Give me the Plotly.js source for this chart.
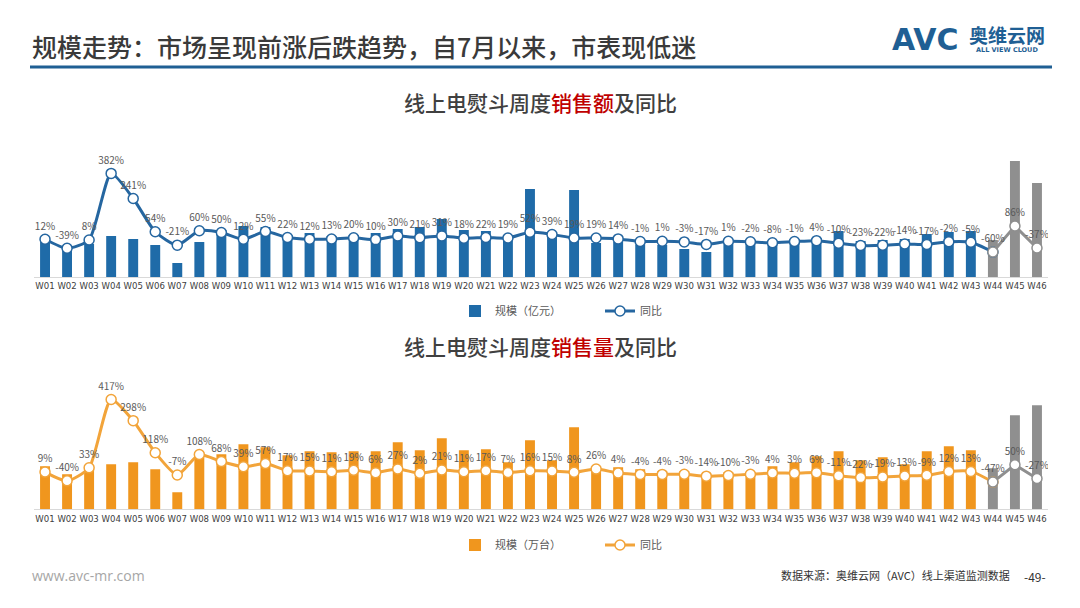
<!DOCTYPE html>
<html><head><meta charset="utf-8">
<script src="https://cdn.plot.ly/plotly-3.0.1.min.js"></script>
<style>html,body{margin:0;padding:0;background:#fff;}#chart{width:1080px;height:608px;}</style>
</head><body><div id="chart"></div>
<script>
// ---- data ----
const weeks = ['W01','W02','W03','W04','W05','W06','W07','W08','W09','W10','W11','W12','W13','W14','W15','W16','W17','W18','W19','W20','W21','W22','W23','W24','W25','W26','W27','W28','W29','W30','W31','W32','W33','W34','W35','W36','W37','W38','W39','W40','W41','W42','W43','W44','W45','W46'];
// 销售额 (亿元)
const salesAmount = [1.52,1.20,1.32,1.64,1.52,1.28,0.56,1.40,1.88,2.04,2.00,1.68,1.76,1.64,1.68,1.76,1.92,2.00,2.32,1.88,1.84,1.60,3.52,1.76,3.48,1.36,1.40,1.28,1.28,1.12,1.00,1.48,1.48,1.44,1.52,1.56,1.84,1.44,1.48,1.52,1.72,1.80,1.84,1.48,4.64,3.76];
const amountYoY = [12,-39,8,382,241,54,-21,60,50,12,55,22,12,13,20,10,30,21,31,18,22,19,52,39,19,19,14,-1,1,-3,-17,1,-2,-8,-1,4,-10,-23,-22,-14,-17,-2,-5,-60,86,-37];
// 销售量 (万台)
const salesVolume = [17.2,14.0,17.2,18.0,18.8,16.0,6.8,21.6,22.0,26.0,24.8,21.6,23.2,22.8,23.2,23.2,26.8,23.6,28.4,23.6,24.0,18.8,27.6,19.6,32.8,16.8,16.8,16.0,15.2,15.2,13.2,14.8,14.8,17.2,18.8,21.2,23.2,19.6,20.8,18.0,23.2,25.2,23.6,16.4,37.6,41.6];
const volumeYoY = [9,-40,33,417,298,118,-7,108,68,39,57,17,15,11,19,6,27,2,21,11,17,7,16,15,8,26,4,-4,-4,-3,-14,-10,-3,4,3,6,-11,-22,-19,-13,-9,12,13,-47,50,-27];
const forecastStart = 43; // index of W44, grey bars from here

// ---- styles ----
const BLUE = '#1F6BA8', BLUE_LINE = '#2566A0';
const ORANGE = '#F0961E', ORANGE_LINE = '#F2A43A';
const GREY = '#8F8F8F';
const FONT = '"Noto Sans CJK SC", "Noto Sans", sans-serif';

function barColors(c){ return weeks.map((w,i)=> i>=forecastStart ? GREY : c); }
const pct = a => a.map(v => v + '%');

const traces = [];
function addChart(xa, yBar, yLine, vals, yoy, barName, barColor, lineColor, legendId){
  traces.push({type:'bar', x:weeks, y:vals, xaxis:xa, yaxis:yBar, name:barName,
    marker:{color:barColors(barColor)}, width:0.45, legend:legendId});
  const xs1 = weeks.slice(0, forecastStart+1), ys1 = yoy.slice(0, forecastStart+1);
  const t1 = pct(ys1); t1[t1.length-1] = '';
  traces.push({type:'scatter', mode:'lines+markers+text', x:xs1, y:ys1, xaxis:xa, yaxis:yLine,
    name:'同比', text:t1, textposition:'top center', legend:legendId,
    textfont:{size:10, color:'#595959', family:FONT},
    line:{color:lineColor, width:3, shape:'spline', smoothing:0.6},
    marker:{size:10, color:'#ffffff', line:{color:lineColor, width:1.5}}});
  const xs2 = weeks.slice(forecastStart), ys2 = yoy.slice(forecastStart);
  traces.push({type:'scatter', mode:'lines+markers+text', x:xs2, y:ys2, xaxis:xa, yaxis:yLine,
    name:'同比', text:pct(ys2), textposition:'top center', showlegend:false, legend:legendId,
    textfont:{size:10, color:'#595959', family:FONT},
    line:{color:GREY, width:3},
    marker:{size:10, color:'#ffffff', line:{color:GREY, width:1.5}}});
}
addChart('x','y','y2', salesAmount, amountYoY, '规模（亿元）', BLUE, BLUE_LINE, 'legend');
addChart('x2','y3','y4', salesVolume, volumeYoY, '规模（万台）', ORANGE, ORANGE_LINE, 'legend2');

const W=1080, H=608;
const px = x => x/W, py = y => 1 - y/H;
const xDom = [px(34), px(1048)];
const xAxisBase = {type:'category', range:[-0.5,45.5], showgrid:false, zeroline:false,
  showline:true, linecolor:'#D9D9D9', linewidth:1, ticks:'', tickangle:0, fixedrange:true,
  tickfont:{size:9.5, color:'#404040', family:'"DejaVu Sans Condensed", "Liberation Sans Narrow", "Noto Sans", sans-serif'}, domain:xDom};
const hiddenY = {showgrid:false, zeroline:false, showticklabels:false, showline:false, fixedrange:true};
const legendBase = {orientation:'h', xanchor:'center', yanchor:'middle', entrywidth:100, entrywidthmode:'pixels',
  font:{size:11, color:'#595959', family:FONT}, itemwidth:30, bgcolor:'rgba(0,0,0,0)'};

const layout = {
  width:W, height:H, margin:{l:0,r:0,t:0,b:0}, paper_bgcolor:'#ffffff', plot_bgcolor:'rgba(0,0,0,0)',
  font:{family:FONT, color:'#404040'},
  xaxis: Object.assign({}, xAxisBase, {anchor:'y'}),
  yaxis: Object.assign({}, hiddenY, {domain:[py(277), py(150)], range:[0, 5.08]}),
  yaxis2: Object.assign({}, hiddenY, {overlaying:'y', range:[-200, 513.5]}),
  xaxis2: Object.assign({}, xAxisBase, {anchor:'y3'}),
  yaxis3: Object.assign({}, hiddenY, {domain:[py(509.3), py(382.3)], range:[0, 50.8]}),
  yaxis4: Object.assign({}, hiddenY, {overlaying:'y3', range:[-200, 513.5]}),
  legend: Object.assign({}, legendBase, {x:px(600), y:py(311)}),
  legend2: Object.assign({}, legendBase, {x:px(600), y:py(545)}),
  shapes: [
    {type:'line', xref:'paper', yref:'paper', x0:px(30), x1:px(1052), y0:py(67), y1:py(67),
      line:{color:'#1F5F94', width:3}}
  ],
  annotations: [
    {text:'规模走势：市场呈现前涨后跌趋势，自7月以来，市表现低迷', xref:'paper', yref:'paper',
      x:px(30), y:py(46), xanchor:'left', yanchor:'middle', showarrow:false,
      font:{size:25, color:'#3A3A3A', family:FONT, weight:500}},
    {text:'<b>AVC</b>', xref:'paper', yref:'paper', x:px(925), y:py(40), xanchor:'center', yanchor:'middle',
      showarrow:false, font:{size:30, color:'#1F5F94', family:'"DejaVu Sans", sans-serif'}},
    {text:'<b>奥维云网</b>', xref:'paper', yref:'paper', x:px(1007), y:py(34), xanchor:'center', yanchor:'middle',
      showarrow:false, font:{size:19, color:'#1F5F94', family:FONT}},
    {text:'<b>ALL VIEW CLOUD</b>', xref:'paper', yref:'paper', x:px(1007), y:py(50), xanchor:'center', yanchor:'middle',
      showarrow:false, font:{size:6.5, color:'#1F5F94', family:'"DejaVu Sans", sans-serif'}},
    {text:'线上电熨斗周度<span style="color:#C00000">销售额</span>及同比', xref:'paper', yref:'paper',
      x:px(540), y:py(102), xanchor:'center', yanchor:'middle', showarrow:false,
      font:{size:21, color:'#404040', family:FONT, weight:500}},
    {text:'线上电熨斗周度<span style="color:#C00000">销售量</span>及同比', xref:'paper', yref:'paper',
      x:px(540), y:py(346), xanchor:'center', yanchor:'middle', showarrow:false,
      font:{size:21, color:'#404040', family:FONT, weight:500}},
    {text:'www.avc-mr.com', xref:'paper', yref:'paper', x:px(30), y:py(575), xanchor:'left', yanchor:'middle',
      showarrow:false, font:{size:14, color:'#A6A6A6', family:'"Open Sans", sans-serif'}},
    {text:'数据来源：奥维云网（AVC）线上渠道监测数据', xref:'paper', yref:'paper', x:px(1012), y:py(575), xanchor:'right', yanchor:'middle',
      showarrow:false, font:{size:11, color:'#333333', family:FONT}},
    {text:'-49-', xref:'paper', yref:'paper', x:px(1035), y:py(576), xanchor:'center', yanchor:'middle',
      showarrow:false, font:{size:12, color:'#333333', family:FONT}}
  ]
};
Plotly.newPlot('chart', traces, layout, {staticPlot:true, displayModeBar:false});
</script></body></html>
